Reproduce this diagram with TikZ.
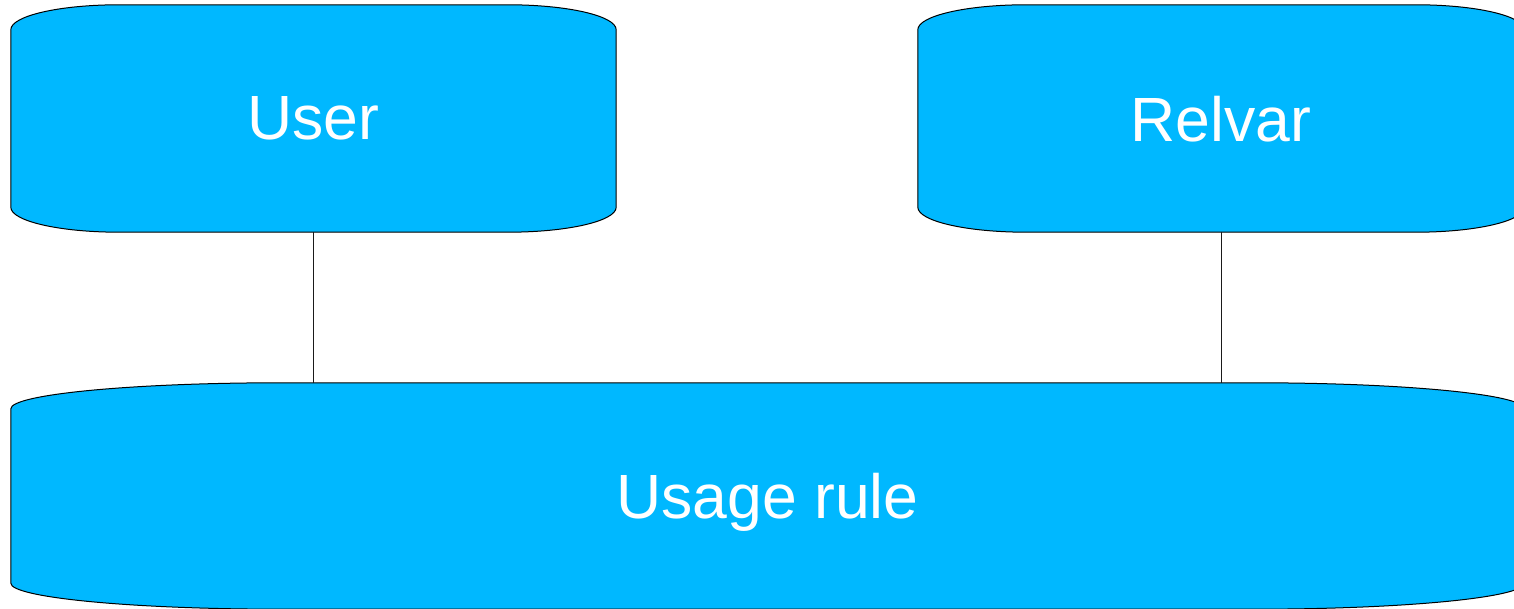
\documentclass[tikz,border=0pt]{standalone}
\usepackage{fontspec}
\setmainfont{Liberation Sans}
\usepackage{tikz}
\usetikzlibrary{positioning,backgrounds}
\definecolor{BoxBlue}{HTML}{00B8FF}
\definecolor{EdgeInk}{HTML}{1A1A1A}

% soft box with elliptic corners round a named node
\newcommand{\softbox}[3]{%
  \filldraw[boxline]
    ([yshift=-#3]#1.north west) arc[start angle=180,end angle=90,x radius=#2,y radius=#3]
    -- ([xshift=-#2]#1.north east) arc[start angle=90,end angle=0,x radius=#2,y radius=#3]
    -- ([yshift=#3]#1.south east) arc[start angle=0,end angle=-90,x radius=#2,y radius=#3]
    -- ([xshift=#2]#1.south west) arc[start angle=-90,end angle=-180,x radius=#2,y radius=#3]
    -- cycle;}

\begin{document}
\begin{tikzpicture}[x=1pt,y=1pt,
    entity/.style={minimum width=605pt,minimum height=227pt,inner sep=0pt,
      text depth=0pt,text=white,font=\fontsize{62.5}{75}\selectfont},
    boxline/.style={draw=black,fill=BoxBlue,line width=1pt},
    link/.style={draw=EdgeInk,line width=1pt}]
  \useasboundingbox (0,0) rectangle (1514,609);
  \node[entity] (user) at (313.5,490.5) {User};
  \node[entity,minimum width=606pt] (relvar) at (1221,490.5) {Relvar};
  \node[entity,minimum width=1513pt,minimum height=226pt] (usage) at (767.5,113) {Usage rule};
  \begin{scope}[on background layer]
    \softbox{user}{108pt}{25pt}
    \softbox{relvar}{108pt}{25pt}
    \softbox{usage}{270pt}{26pt}
  \end{scope}
  \draw[link] (user.south) -- (user.south |- usage.north);
  \draw[link] (relvar.south) -- (relvar.south |- usage.north);
\end{tikzpicture}
\end{document}
